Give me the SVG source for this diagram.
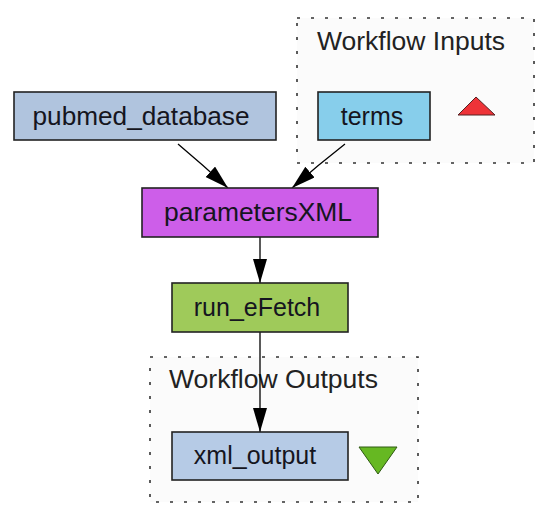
<svg xmlns="http://www.w3.org/2000/svg" width="541" height="508" viewBox="0 0 541 508">
  <style>
    .cluster { fill: #fbfbfb; stroke: #333; stroke-width: 1.6; stroke-dasharray: 3 11; }
    .cluster-label { font-family: "Liberation Sans", Arial, sans-serif; font-size: 25px; fill: #222; }
    .node rect { stroke: #222; stroke-width: 1.6; }
    .node text { font-family: "Liberation Sans", Arial, sans-serif; font-size: 25px; fill: #151520; text-anchor: middle; }
    .edge { fill: none; stroke: #000; stroke-width: 1.3; }
  </style>
  <defs>
    <marker id="head" markerUnits="userSpaceOnUse" markerWidth="26" markerHeight="16" refX="24" refY="7" orient="auto">
      <path d="M0,0 L24,7 L0,14 z" fill="#000"/>
    </marker>
  </defs>

  <rect width="541" height="508" fill="#fff"/>

  <!-- workflow input / output clusters -->
  <g id="cluster_inputs">
    <rect class="cluster" x="297" y="18" width="237" height="145"/>
    <text class="cluster-label" x="317" y="50" textLength="188" lengthAdjust="spacingAndGlyphs">Workflow Inputs</text>
  </g>
  <g id="cluster_outputs">
    <rect class="cluster" x="150" y="357" width="268" height="145"/>
    <text class="cluster-label" x="169" y="388" textLength="209" lengthAdjust="spacingAndGlyphs">Workflow Outputs</text>
  </g>

  <!-- connectors -->
  <g id="edges">
    <path class="edge" d="M178,144 Q203,165 228,188" marker-end="url(#head)"/>
    <path class="edge" d="M345,144 Q318,165 292,188" marker-end="url(#head)"/>
    <path class="edge" d="M260,237 L260,283" marker-end="url(#head)"/>
    <path class="edge" d="M260,332 L260,432" marker-end="url(#head)"/>
  </g>

  <!-- nodes -->
  <g id="pubmed_database" class="node">
    <rect x="14" y="92" width="262" height="48" fill="#b0c4de"/>
    <text x="141" y="125" textLength="217" lengthAdjust="spacingAndGlyphs">pubmed_database</text>
  </g>
  <g id="terms" class="node">
    <rect x="318" y="92" width="112" height="48" fill="#87ceeb"/>
    <text x="372" y="125">terms</text>
  </g>
  <g id="inputs_marker">
    <polygon points="476,97 458,115 495,115" fill="#ee3338" stroke="#552222" stroke-width="1"/>
  </g>
  <g id="parametersXML" class="node">
    <rect x="142" y="188" width="236" height="49" fill="#cd5ee9"/>
    <text x="258" y="221" textLength="188" lengthAdjust="spacingAndGlyphs">parametersXML</text>
  </g>
  <g id="run_eFetch" class="node">
    <rect x="172" y="283" width="176" height="49" fill="#9fca5a"/>
    <text x="257" y="316">run_eFetch</text>
  </g>
  <g id="xml_output" class="node">
    <rect x="172" y="432" width="176" height="48" fill="#b6cbe6"/>
    <text x="255" y="464">xml_output</text>
  </g>
  <g id="outputs_marker">
    <polygon points="359,447 397,447 378,474" fill="#66b822" stroke="#2f5a12" stroke-width="1"/>
  </g>
</svg>
